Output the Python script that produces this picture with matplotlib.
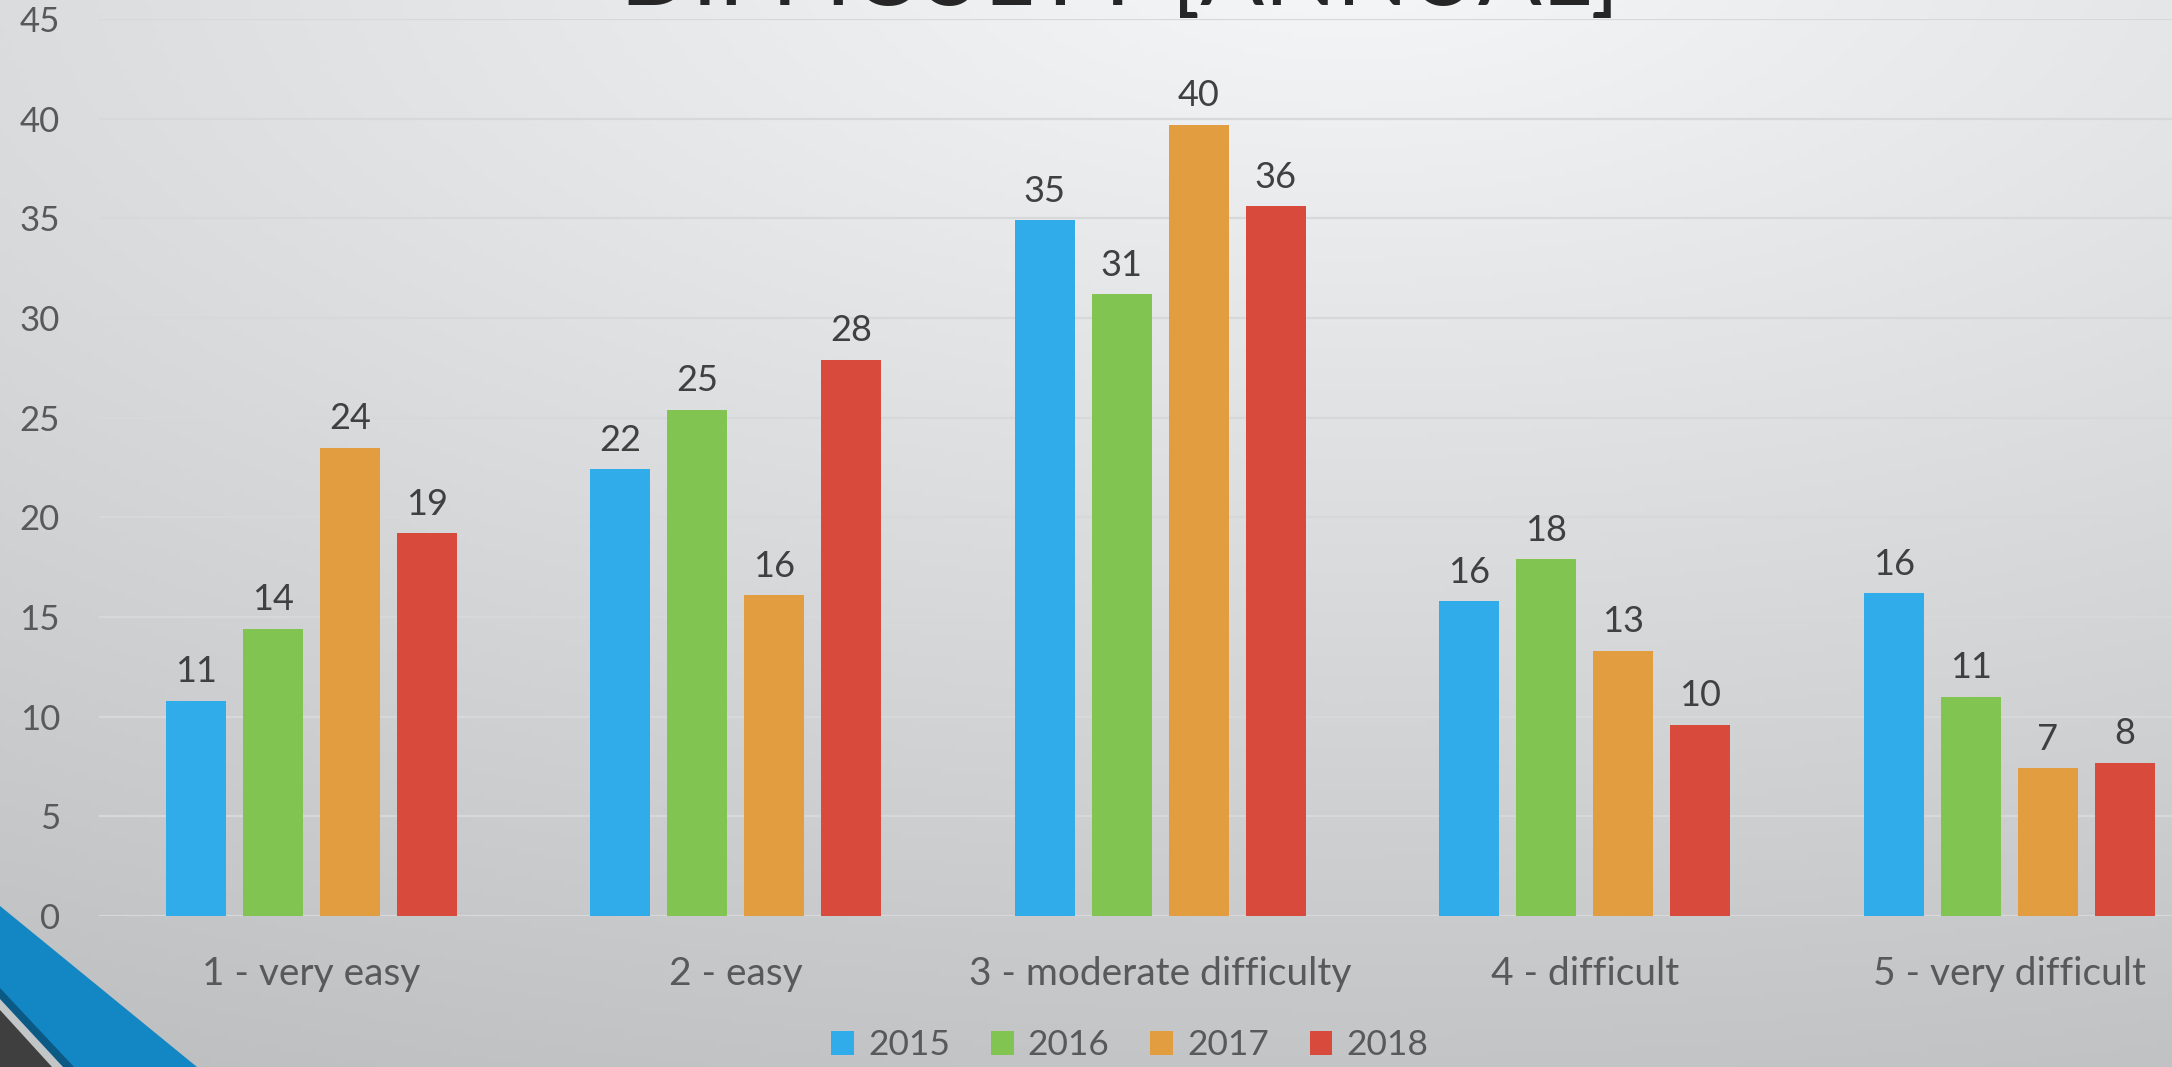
import numpy as np
import matplotlib
matplotlib.use("Agg")
import matplotlib.pyplot as plt
from matplotlib.patches import Polygon

plt.rcParams["font.family"] = ["Lato", "DejaVu Sans"]

categories = ["1 - very easy", "2 - easy", "3 - moderate difficulty", "4 - difficult", "5 - very difficult"]
years = ["2015", "2016", "2017", "2018"]
v2015 = [10.8, 22.4, 34.9, 15.8, 16.2]
v2016 = [14.4, 25.4, 31.2, 17.9, 11.0]
v2017 = [23.5, 16.1, 39.7, 13.3, 7.4]
v2018 = [19.2, 27.9, 35.6, 9.6, 7.7]
series = [v2015, v2016, v2017, v2018]
colors = ["#30ACEA", "#82C451", "#E19D3F", "#D84B3C"]

W, H = 2172, 1067
fig = plt.figure(figsize=(W / 100, H / 100), dpi=100)

# background gradient
bg = fig.add_axes([0, 0, 1, 1], zorder=-10)
xx, yy = np.meshgrid(np.linspace(0, 1, 400), np.linspace(0, 1, 200))
d = np.sqrt(((xx - 0.62) * 0.9) ** 2 + (yy + 0.05) ** 2)
v = (247 - 48 * d) / 255
img = np.dstack([v - 2 / 255, v, v + 1 / 255]).clip(0, 1)
bg.imshow(img, aspect="auto", extent=[0, 1, 0, 1], origin="upper")
bg.axis("off")

# corner decoration
def px(pts):
    return [(x / W, 1 - y / H) for x, y in pts]

for pts, c in [([(0, 906), (197, 1067), (0, 1067)], "#1386C4"),
               ([(0, 988), (74, 1067), (0, 1067)], "#0B5A86"),
               ([(0, 999), (63, 1067), (0, 1067)], "#C3C6C7"),
               ([(0, 1010), (52, 1067), (0, 1067)], "#3F3F3F")]:
    fig.patches.append(Polygon(px(pts), closed=True, transform=fig.transFigure,
                               facecolor=c, edgecolor="none", zorder=-5))

left, right, bottom, top = 99, W, 916, 19
ax = fig.add_axes([left / W, 1 - bottom / H, (right - left) / W, (bottom - top) / H])
ax.patch.set_alpha(0)
pitch = 424.5
ax.set_xlim(-0.5, -0.5 + (right - left) / pitch)
ax.set_ylim(0, 45)

x = np.arange(len(categories))
bw = 60 / pitch
step = 77 / pitch
handles = []
for i, (vals, c) in enumerate(zip(series, colors)):
    b = ax.bar(x + (i - 1.5) * step, vals, width=bw, color=c, zorder=3, label=years[i])
    ax.bar_label(b, labels=[f"{v:.0f}" for v in vals], padding=9,
                 fontsize=26, color="#404040")
    handles.append(b)

ax.set_yticks(range(0, 46, 5))
ax.grid(axis="y", color="#D6D8D9", linewidth=1.6, zorder=0)
ax.axhline(0, color="#DCDEDF", linewidth=2, zorder=1)
ax.set_xticks(x)
ax.set_xticklabels(categories)
ax.tick_params(axis="y", length=0, pad=28, labelsize=25, labelcolor="#595959")
ax.tick_params(axis="x", length=0, pad=29, labelsize=28, labelcolor="#595959")
for s in ax.spines.values():
    s.set_visible(False)

fig.legend(handles=handles, labels=years, loc="center", ncol=4,
           bbox_to_anchor=(1130 / W, 1 - 1045 / H), frameon=False,
           fontsize=25.5, labelcolor="#595959", handlelength=0.64, handleheight=0.66,
           handletextpad=0.4, columnspacing=1.15)

fig.text(1120 / W, 1 - 5 / H, "DIFFICULTY [ANNUAL]", ha="center", va="baseline",
         fontsize=68, color="#262626")

fig.savefig("out.png", dpi=100)
